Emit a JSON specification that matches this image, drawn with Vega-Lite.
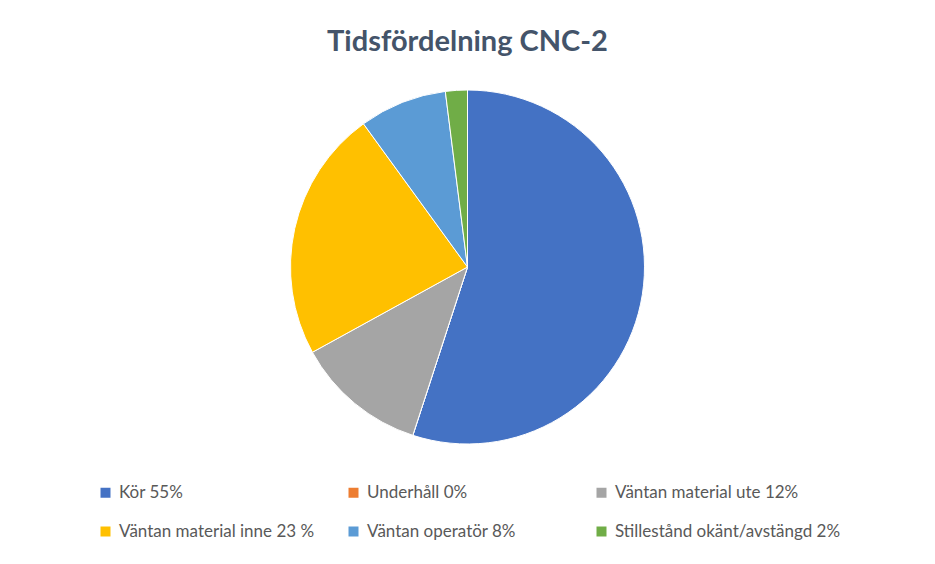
{
  "$schema": "https://vega.github.io/schema/vega-lite/v6.json",
  "width": 935,
  "height": 354,
  "autosize": {"type": "none"},
  "padding": {"left": 0, "top": 90, "right": 0, "bottom": 120},
  "background": "white",
  "config": {
    "view": {"stroke": null},
    "font": "Lato"
  },
  "title": {
    "text": "Tidsfördelning CNC-2",
    "anchor": "middle",
    "fontSize": 29,
    "fontWeight": "bold",
    "color": "#44546A",
    "offset": 31
  },
  "data": {
    "values": [
      {"kategori": "Kör 55%", "andel": 55, "ordning": 1},
      {"kategori": "Underhåll 0%", "andel": 0, "ordning": 2},
      {"kategori": "Väntan material ute 12%", "andel": 12, "ordning": 3},
      {"kategori": "Väntan material inne 23 %", "andel": 23, "ordning": 4},
      {"kategori": "Väntan operatör 8%", "andel": 8, "ordning": 5},
      {"kategori": "Stillestånd okänt/avstängd 2%", "andel": 2, "ordning": 6}
    ]
  },
  "mark": {"type": "arc", "stroke": "white", "strokeWidth": 1},
  "encoding": {
    "theta": {"field": "andel", "type": "quantitative", "stack": true},
    "order": {"field": "ordning", "type": "quantitative"},
    "color": {
      "field": "kategori",
      "type": "nominal",
      "scale": {
        "domain": [
          "Kör 55%",
          "Underhåll 0%",
          "Väntan material ute 12%",
          "Väntan material inne 23 %",
          "Väntan operatör 8%",
          "Stillestånd okänt/avstängd 2%"
        ],
        "range": ["#4472C4", "#ED7D31", "#A5A5A5", "#FFC000", "#5B9BD5", "#70AD47"]
      },
      "legend": {
        "title": null,
        "orient": "none",
        "legendX": 97,
        "legendY": 394,
        "columns": 3,
        "direction": "horizontal",
        "gridAlign": "all",
        "columnPadding": -2,
        "rowPadding": 21,
        "symbolType": "square",
        "symbolSize": 100,
        "symbolStrokeWidth": 0,
        "symbolOffset": 0,
        "labelOffset": 5,
        "labelFontSize": 17,
        "labelColor": "#595959",
        "labelLimit": 400
      }
    }
  }
}
